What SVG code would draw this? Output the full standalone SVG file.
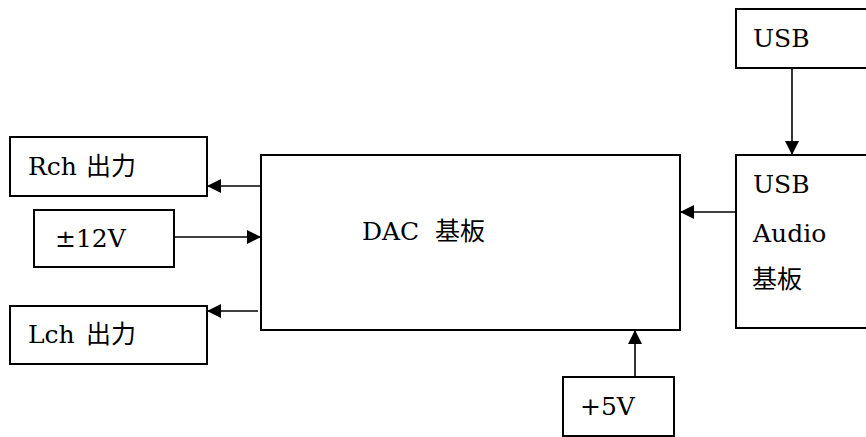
<svg xmlns="http://www.w3.org/2000/svg" width="866" height="437" viewBox="0 0 866 437">
<style>
.box{fill:#fff;stroke:#000;stroke-width:2}
.t{font-family:'DejaVu Serif','Noto Sans CJK JP',serif;font-size:25px;fill:#000}
.c{stroke:#000;stroke-width:1.6;fill:none}
</style>
<defs>
<marker id="ah" markerUnits="userSpaceOnUse" markerWidth="14" markerHeight="14" viewBox="0 0 14 14" refX="14" refY="7" orient="auto">
<path d="M0,0 L14,7 L0,14 Z" fill="#000"/>
</marker>
</defs>
<rect width="866" height="437" fill="#fff"/>
<g id="rch"><rect class="box" x="10" y="137" width="197" height="59"/><text class="t" x="28" y="175">Rch<tspan x="86">出力</tspan></text></g>
<g id="p12v"><rect class="box" x="34" y="210" width="140" height="57"/><text class="t" x="55" y="247">±12V</text></g>
<g id="lch"><rect class="box" x="10" y="306" width="197" height="58"/><text class="t" x="28" y="343">Lch<tspan x="86">出力</tspan></text></g>
<g id="dac"><rect class="box" x="261" y="155" width="419" height="175"/><text class="t" x="362" y="240">DAC<tspan x="435">基板</tspan></text></g>
<g id="usb"><rect class="box" x="736" y="9" width="140" height="59"/><text class="t" x="753" y="47">USB</text></g>
<g id="usbaudio"><rect class="box" x="736" y="155" width="140" height="173"/><text class="t" x="753" y="193">USB</text><text class="t" x="753" y="242">Audio</text><text class="t" x="752" y="288">基板</text></g>
<g id="p5v"><rect class="box" x="563" y="377" width="111" height="59"/><text class="t" x="580" y="415">+5V</text></g>
<g id="connectors">
<line class="c" x1="261" y1="186" x2="207" y2="186" marker-end="url(#ah)"/>
<line class="c" x1="174" y1="237" x2="261" y2="237" marker-end="url(#ah)"/>
<line class="c" x1="258" y1="311" x2="207" y2="311" marker-end="url(#ah)"/>
<line class="c" x1="792" y1="68" x2="792" y2="155" marker-end="url(#ah)"/>
<line class="c" x1="736" y1="212" x2="680" y2="212" marker-end="url(#ah)"/>
<line class="c" x1="635" y1="377" x2="635" y2="330" marker-end="url(#ah)"/>
</g>
</svg>
